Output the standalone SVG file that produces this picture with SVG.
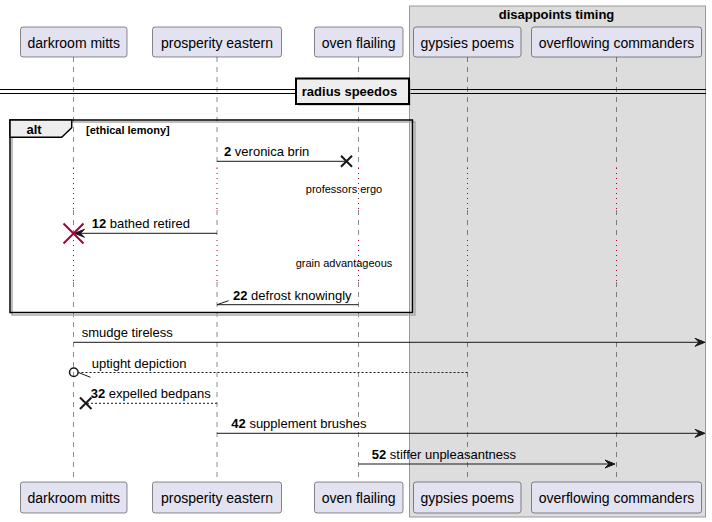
<svg xmlns="http://www.w3.org/2000/svg" width="712" height="522" viewBox="0 0 712 522">
<style>
.part{fill:#E2E2F0;stroke:#181818;stroke-width:0.5}
.pt{font-family:"Liberation Sans",Arial,sans-serif;font-size:14px;fill:#000;text-anchor:middle}
.life{stroke:#181818;stroke-width:0.5;stroke-dasharray:5,5;fill:none}
.delay{stroke:#A80036;stroke-width:1;stroke-dasharray:1,4;fill:none}
.msg{stroke:#181818;stroke-width:1;fill:none}
.dash{stroke:#181818;stroke-width:1;stroke-dasharray:2,2;fill:none}
.mt{font-family:"Liberation Sans",Arial,sans-serif;font-size:13px;fill:#000}
.b{font-weight:bold}
.dt{font-family:"Liberation Sans",Arial,sans-serif;font-size:11px;fill:#000;text-anchor:middle}
.head{fill:#181818;stroke:#181818;stroke-width:1}
.xk{stroke:#181818;stroke-width:2;fill:none}
</style>
<rect width="712" height="522" fill="#FFFFFF"/>
<g id="box-disappoints-timing">
<rect x="409.5" y="6" width="296" height="511" fill="#DDDDDD" stroke="#999999" stroke-width="1"/>
<text x="556.5" y="19" font-family="Liberation Sans,Arial,sans-serif" font-size="13" font-weight="bold" text-anchor="middle">disappoints timing</text>
</g>
<g id="lifelines">
<path class="life" d="M73.5,57V168M73.5,210V240M73.5,282V482"/>
<path class="delay" d="M73.5,168V210M73.5,240V282"/>
<path class="life" d="M217,57V168M217,210V240M217,282V482"/>
<path class="delay" d="M217,168V210M217,240V282"/>
<path class="life" d="M358.5,57V168M358.5,210V240M358.5,282V482"/>
<path class="delay" d="M358.5,168V210M358.5,240V282"/>
<path class="life" d="M467.5,57V168M467.5,210V240M467.5,282V482"/>
<path class="delay" d="M467.5,168V210M467.5,240V282"/>
<path class="life" d="M616.5,57V168M616.5,210V240M616.5,282V482"/>
<path class="delay" d="M616.5,168V210M616.5,240V282"/>
</g>
<g id="participant-darkroom-mitts">
<rect class="part" x="20.5" y="27" width="106.5" height="30" rx="2.5"/>
<text class="pt" x="73.7" y="47.5">darkroom mitts</text>
<rect class="part" x="20.5" y="482" width="106.5" height="31" rx="2.5"/>
<text class="pt" x="73.7" y="503">darkroom mitts</text>
</g>
<g id="participant-prosperity-eastern">
<rect class="part" x="152.5" y="27" width="129" height="30" rx="2.5"/>
<text class="pt" x="217" y="47.5">prosperity eastern</text>
<rect class="part" x="152.5" y="482" width="129" height="31" rx="2.5"/>
<text class="pt" x="217" y="503">prosperity eastern</text>
</g>
<g id="participant-oven-flailing">
<rect class="part" x="314.5" y="27" width="88.5" height="30" rx="2.5"/>
<text class="pt" x="358.7" y="47.5">oven flailing</text>
<rect class="part" x="314.5" y="482" width="88.5" height="31" rx="2.5"/>
<text class="pt" x="358.7" y="503">oven flailing</text>
</g>
<g id="participant-gypsies-poems">
<rect class="part" x="413.5" y="27" width="107.5" height="30" rx="2.5"/>
<text class="pt" x="467.2" y="47.5">gypsies poems</text>
<rect class="part" x="413.5" y="482" width="107.5" height="31" rx="2.5"/>
<text class="pt" x="467.2" y="503">gypsies poems</text>
</g>
<g id="participant-overflowing-commanders">
<rect class="part" x="531.5" y="27" width="170" height="30" rx="2.5"/>
<text class="pt" x="616.5" y="47.5">overflowing commanders</text>
<rect class="part" x="531.5" y="482" width="170" height="31" rx="2.5"/>
<text class="pt" x="616.5" y="503">overflowing commanders</text>
</g>
<g id="divider-radius-speedos">
<line x1="0" y1="89.5" x2="706" y2="89.5" stroke="#000" stroke-width="1"/>
<line x1="0" y1="93.5" x2="706" y2="93.5" stroke="#000" stroke-width="1"/>
<rect x="298" y="80.5" width="113" height="25.5" fill="#AAAAAA" opacity="0.5"/>
<rect x="296" y="78.5" width="113" height="25.5" fill="#EEEEEE" stroke="#000" stroke-width="2"/>
<text x="349.5" y="96" font-family="Liberation Sans,Arial,sans-serif" font-size="13" font-weight="bold" text-anchor="middle">radius speedos</text>
</g>
<g id="alt-ethical-lemony">
<rect x="12" y="122" width="403" height="193" fill="none" stroke="#AAAAAA" stroke-width="1.5"/>
<rect x="10" y="120" width="402.5" height="192.5" fill="none" stroke="#000" stroke-width="1.5"/>
<path d="M10,120H71.7V127.7L61.7,137.3H10Z" fill="#EEEEEE" stroke="#000" stroke-width="1.5"/>
<text x="26.5" y="134" font-family="Liberation Sans,Arial,sans-serif" font-size="13" font-weight="bold">alt</text>
<text x="86" y="134" font-family="Liberation Sans,Arial,sans-serif" font-size="11" font-weight="bold">[ethical lemony]</text>
</g>
<g id="delays">
<text class="dt" x="344" y="193.3">professors ergo</text>
<text class="dt" x="344" y="266.7">grain advantageous</text>
</g>
<g id="connectors">
<g id="msg-2">
<line class="msg" x1="217" y1="161.3" x2="346.5" y2="161.3"/>
<path class="xk" d="M341,155.8L352,166.8M341,166.8L352,155.8"/>
<text class="mt" x="224" y="156"><tspan class="b">2</tspan> veronica brin</text>
</g>
<g id="msg-12">
<line class="msg" x1="217" y1="233.3" x2="75" y2="233.3"/>
<polygon class="head" points="74.5,233.3 84.5,229.3 80.5,233.3 84.5,237.3"/>
<path d="M63.5,223.5L83.5,243.5M63.5,243.5L83.5,223.5" stroke="#A80036" stroke-width="2" fill="none"/>
<text class="mt" x="91.7" y="228"><tspan class="b">12</tspan> bathed retired</text>
</g>
<g id="msg-22">
<line class="msg" x1="358.5" y1="304.7" x2="217" y2="304.7"/>
<line class="msg" x1="217" y1="304.7" x2="228.5" y2="300.7"/>
<text class="mt" x="233" y="299.5"><tspan class="b">22</tspan> defrost knowingly</text>
</g>
<g id="msg-smudge">
<line class="msg" x1="73.5" y1="342.3" x2="703" y2="342.3"/>
<polygon class="head" points="705,342.3 695,338.3 699,342.3 695,346.3"/>
<text class="mt" x="81.7" y="337">smudge tireless</text>
</g>
<g id="msg-uptight">
<line class="dash" x1="467.5" y1="372.5" x2="78.5" y2="372.5"/>
<circle cx="73.8" cy="372.3" r="4.3" fill="none" stroke="#181818" stroke-width="1.5"/>
<line class="msg" x1="78.5" y1="372.5" x2="90.5" y2="377.3"/>
<text class="mt" x="91.7" y="367.5">uptight depiction</text>
</g>
<g id="msg-32">
<line class="dash" x1="217" y1="403.3" x2="85.5" y2="403.3"/>
<path class="xk" d="M80,397.5L91.5,409M80,409L91.5,397.5"/>
<text class="mt" x="90.7" y="398"><tspan class="b">32</tspan> expelled bedpans</text>
</g>
<g id="msg-42">
<line class="msg" x1="217" y1="433.3" x2="703" y2="433.3"/>
<polygon class="head" points="705,433.3 695,429.3 699,433.3 695,437.3"/>
<text class="mt" x="231.3" y="428"><tspan class="b">42</tspan> supplement brushes</text>
</g>
<g id="msg-52">
<line class="msg" x1="358.5" y1="464" x2="613" y2="464"/>
<polygon class="head" points="615,464 605,460 609,464 605,468"/>
<text class="mt" x="371.7" y="458.7"><tspan class="b">52</tspan> stiffer unpleasantness</text>
</g>
</g>
</svg>
